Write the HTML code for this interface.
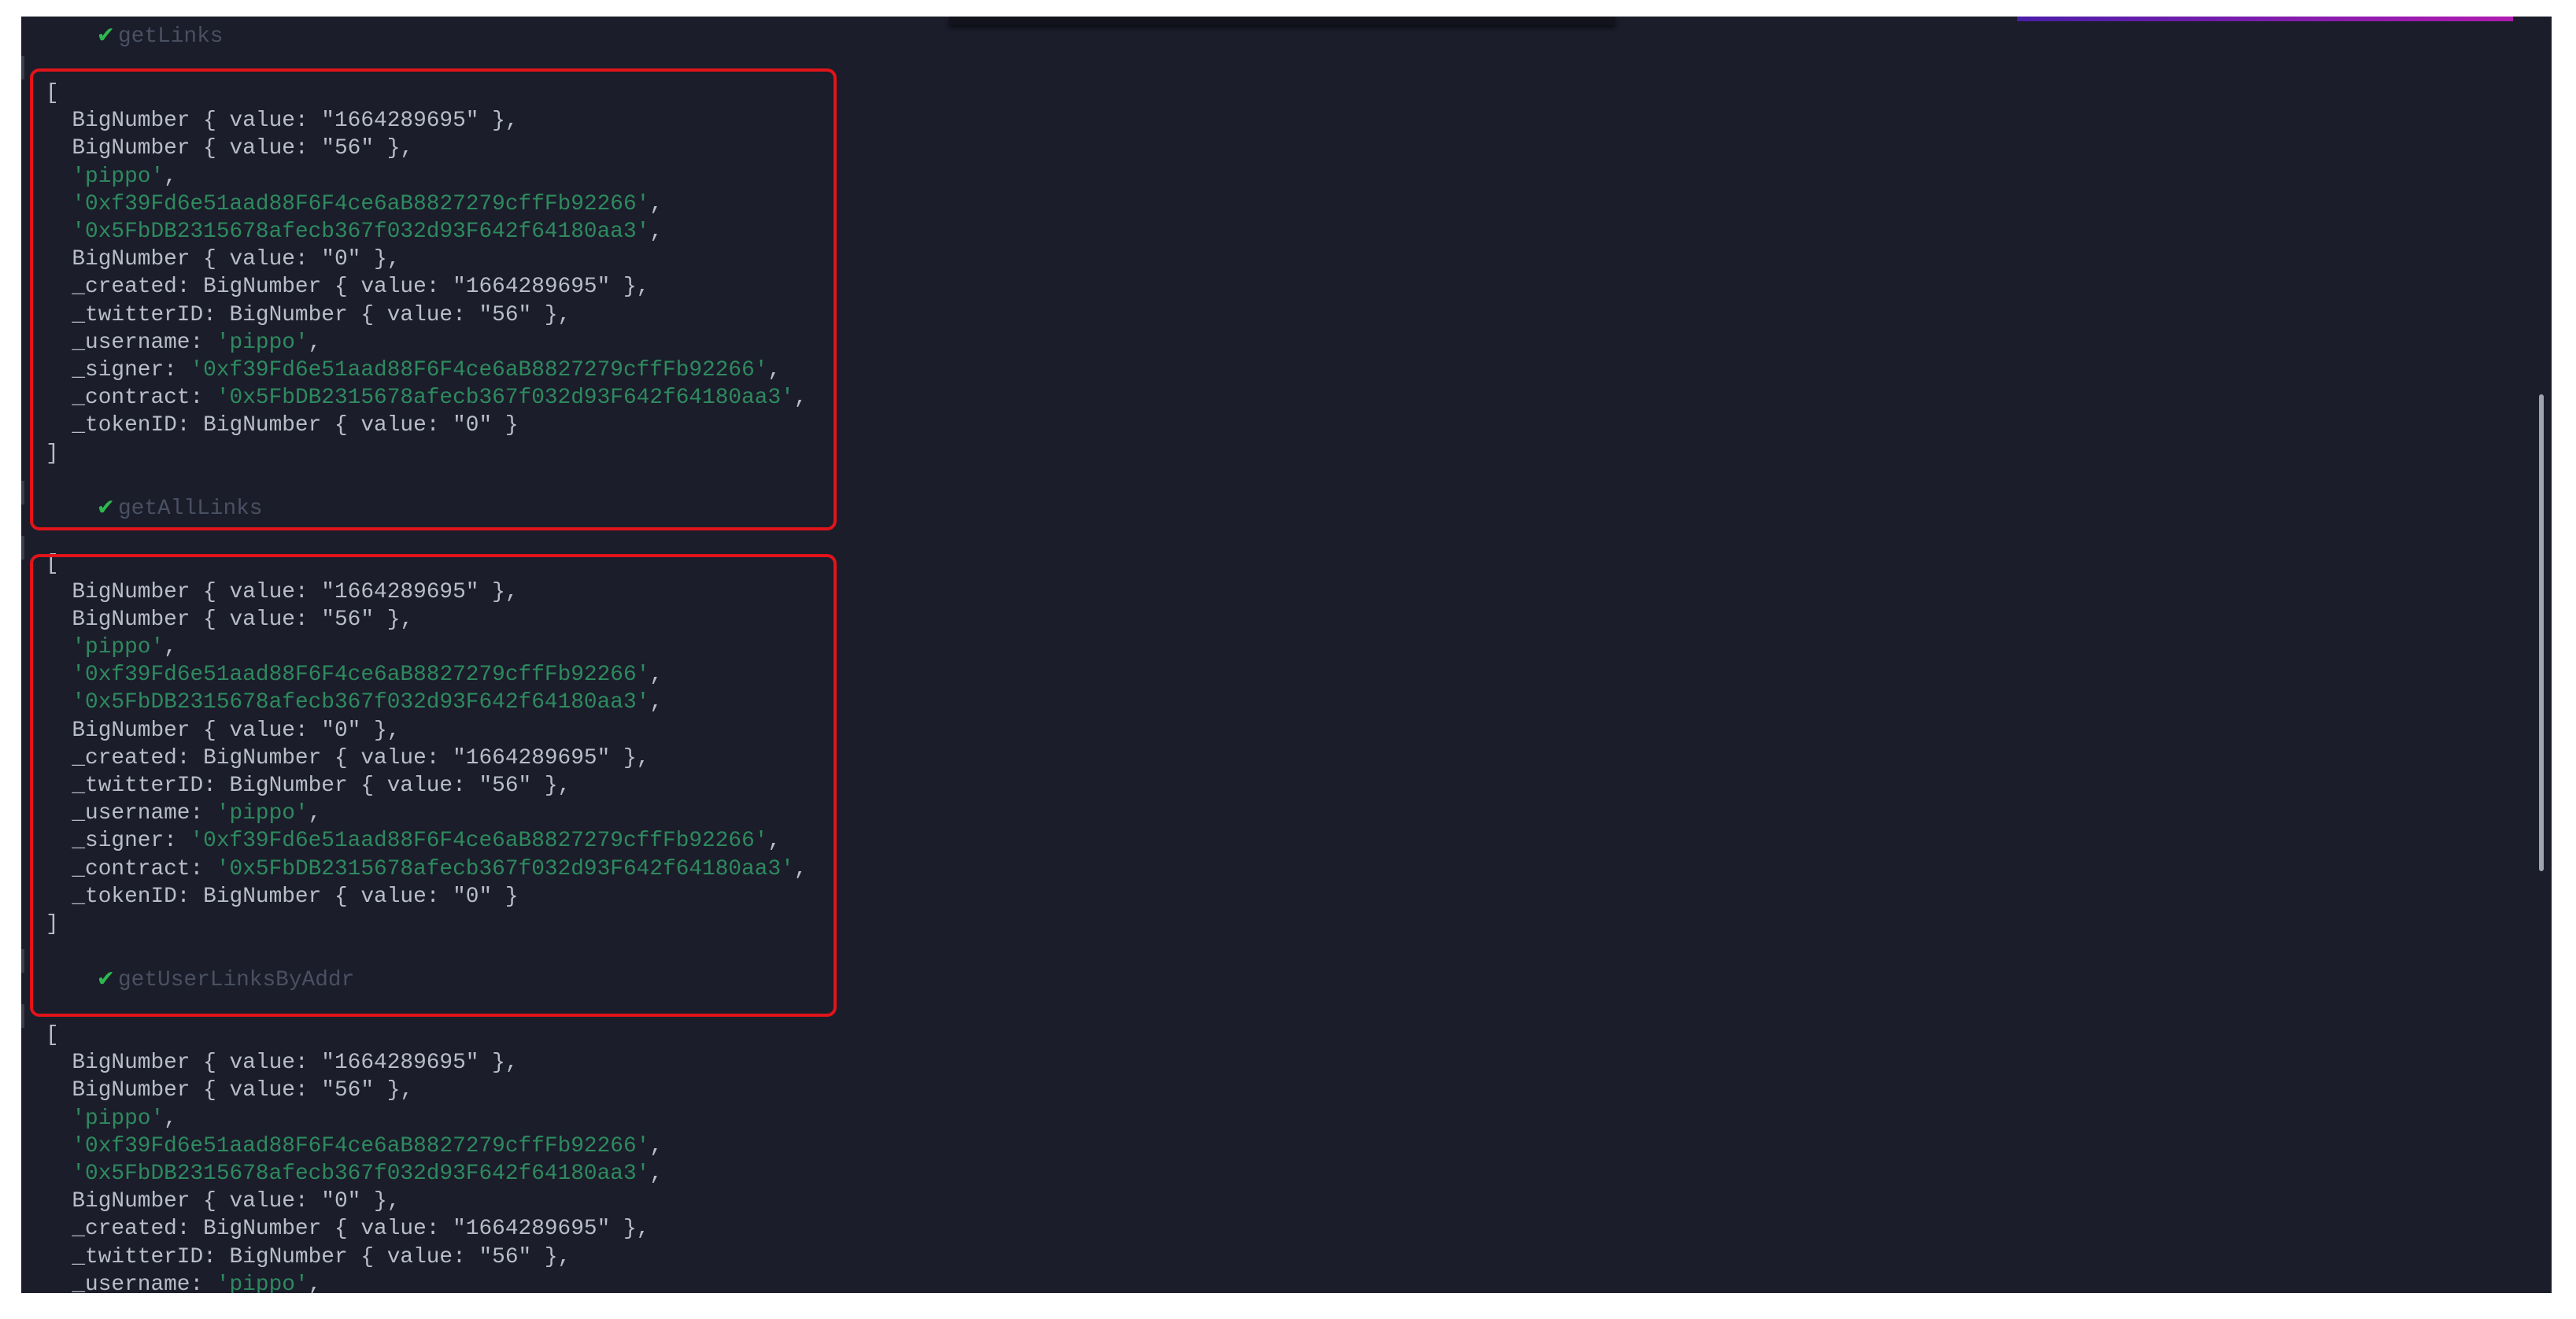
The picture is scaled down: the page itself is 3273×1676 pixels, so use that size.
<!DOCTYPE html>
<html><head><meta charset="utf-8"><style>
html,body{margin:0;padding:0;width:3273px;height:1676px;background:#fff;overflow:hidden}
#bg{position:absolute;left:27px;top:21px;width:3215px;height:1622px;background:#1b1d2a;overflow:hidden}
pre{position:absolute;margin:0;font-family:"Liberation Mono",monospace;font-size:27.8px;line-height:35.2px;color:#b9bdc7;left:31px}
.g{color:#2e8a5f}
.lab{color:#4a5062}
.ck{color:#2db84f;font-size:32px;margin-right:6px;line-height:1px}
.box{position:absolute;border:4px solid #e0141a;border-radius:12px;box-sizing:border-box}
</style></head><body>
<div id="bg">
<div style="position:absolute;left:1179px;top:0;width:846px;height:11px;background:#12131c;box-shadow:0 3px 6px #0b0c12"></div>
<div style="position:absolute;left:2536px;top:0;width:630px;height:6px;background:linear-gradient(90deg,#4a1ea8,#b01cb0)"></div>
<div style="position:absolute;left:3199px;top:480px;width:6px;height:606px;background:#9ea2ad;border-radius:3px"></div>
<div style="position:absolute;left:0;top:50px;width:4px;height:30px;background:#3a3d4a"></div>
<div style="position:absolute;left:0;top:590px;width:4px;height:30px;background:#3a3d4a"></div>
<div style="position:absolute;left:0;top:660px;width:4px;height:30px;background:#3a3d4a"></div>
<div style="position:absolute;left:0;top:1185px;width:4px;height:30px;background:#3a3d4a"></div>
<div style="position:absolute;left:0;top:1255px;width:4px;height:30px;background:#3a3d4a"></div>
<pre style="top:8px">    <span class="ck">✔</span><span class="lab">getLinks</span></pre>
<pre style="top:80px">[
  BigNumber { value: "1664289695" },
  BigNumber { value: "56" },
  <span class="g">'pippo'</span>,
  <span class="g">'0xf39Fd6e51aad88F6F4ce6aB8827279cffFb92266'</span>,
  <span class="g">'0x5FbDB2315678afecb367f032d93F642f64180aa3'</span>,
  BigNumber { value: "0" },
  _created: BigNumber { value: "1664289695" },
  _twitterID: BigNumber { value: "56" },
  _username: <span class="g">'pippo'</span>,
  _signer: <span class="g">'0xf39Fd6e51aad88F6F4ce6aB8827279cffFb92266'</span>,
  _contract: <span class="g">'0x5FbDB2315678afecb367f032d93F642f64180aa3'</span>,
  _tokenID: BigNumber { value: "0" }
]

    <span class="ck">✔</span><span class="lab">getAllLinks</span>

[
  BigNumber { value: "1664289695" },
  BigNumber { value: "56" },
  <span class="g">'pippo'</span>,
  <span class="g">'0xf39Fd6e51aad88F6F4ce6aB8827279cffFb92266'</span>,
  <span class="g">'0x5FbDB2315678afecb367f032d93F642f64180aa3'</span>,
  BigNumber { value: "0" },
  _created: BigNumber { value: "1664289695" },
  _twitterID: BigNumber { value: "56" },
  _username: <span class="g">'pippo'</span>,
  _signer: <span class="g">'0xf39Fd6e51aad88F6F4ce6aB8827279cffFb92266'</span>,
  _contract: <span class="g">'0x5FbDB2315678afecb367f032d93F642f64180aa3'</span>,
  _tokenID: BigNumber { value: "0" }
]

    <span class="ck">✔</span><span class="lab">getUserLinksByAddr</span>

[
  BigNumber { value: "1664289695" },
  BigNumber { value: "56" },
  <span class="g">'pippo'</span>,
  <span class="g">'0xf39Fd6e51aad88F6F4ce6aB8827279cffFb92266'</span>,
  <span class="g">'0x5FbDB2315678afecb367f032d93F642f64180aa3'</span>,
  BigNumber { value: "0" },
  _created: BigNumber { value: "1664289695" },
  _twitterID: BigNumber { value: "56" },
  _username: <span class="g">'pippo'</span>,
</pre>
</div>
<div class="box" style="left:38px;top:87px;width:1025px;height:587px"></div>
<div class="box" style="left:38px;top:704px;width:1025px;height:588px"></div>
</body></html>
